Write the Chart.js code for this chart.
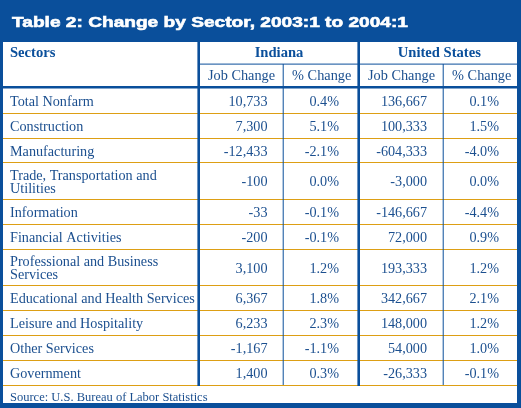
<!DOCTYPE html>
<html><head><meta charset="utf-8">
<script src="https://cdn.jsdelivr.net/npm/chart.js@4/dist/chart.umd.min.js"></script>
<style>html,body{margin:0;padding:0;background:#fff;}#wrap{width:521px;height:408px;}</style>
</head><body>
<div id="wrap"><canvas id="c" width="521" height="408"></canvas></div>
<script>
// ---- data ----
const title = 'Table 2: Change by Sector, 2003:1 to 2004:1';
const sectorHeader = 'Sectors';
const groups = ['Indiana', 'United States'];
const subHeaders = ['Job Change', '% Change'];
const sectors = ['Total Nonfarm', 'Construction', 'Manufacturing', 'Trade, Transportation and\nUtilities',
  'Information', 'Financial Activities', 'Professional and Business\nServices', 'Educational and Health Services',
  'Leisure and Hospitality', 'Other Services', 'Government'];
const indianaJobChange = [10733, 7300, -12433, -100, -33, -200, 3100, 6367, 6233, -1167, 1400];
const indianaPctChange = [0.4, 5.1, -2.1, 0.0, -0.1, -0.1, 1.2, 1.8, 2.3, -1.1, 0.3];
const usJobChange = [136667, 100333, -604333, -3000, -146667, 72000, 193333, 342667, 148000, 54000, -26333];
const usPctChange = [0.1, 1.5, -4.0, 0.0, -4.4, 0.9, 1.2, 2.1, 1.2, 1.0, -0.1];
const source = 'Source: U.S. Bureau of Labor Statistics';

// ---- styles / layout ----
const BLUE = '#0a4f9b', TEXT = '#1b4f8f', ORANGE = '#dd9f14';
const SERIF = '"Liberation Serif", "Times New Roman", serif';
const fmtJob = v => v.toLocaleString('en-US');
const fmtPct = v => v.toFixed(1) + '%';
const columns = [
  {values: indianaJobChange, fmt: fmtJob, right: 267.5},
  {values: indianaPctChange, fmt: fmtPct, right: 339},
  {values: usJobChange, fmt: fmtJob, right: 427},
  {values: usPctChange, fmt: fmtPct, right: 499}
];

const tablePlugin = {
  id: 'table',
  afterDraw(chart) {
    const ctx = chart.ctx, sx = chart.scales.x, sy = chart.scales.y;
    const X = v => sx.getPixelForValue(v), Y = v => sy.getPixelForValue(v);
    const rect = (x0, y0, x1, y1, c) => { ctx.fillStyle = c; ctx.fillRect(X(x0), Y(y0), X(x1) - X(x0), Y(y1) - Y(y0)); };
    ctx.save();
    rect(0, 0, 521, 408, BLUE);
    rect(3, 42, 517, 403, '#ffffff');
    // title (stretched horizontally to the reference width)
    ctx.fillStyle = '#ffffff';
    ctx.strokeStyle = '#ffffff';
    ctx.lineWidth = 0.6;
    ctx.font = 'bold 15.5px "Liberation Sans", Arial, sans-serif';
    ctx.textAlign = 'left'; ctx.textBaseline = 'alphabetic';
    const w = ctx.measureText(title).width;
    ctx.save();
    ctx.translate(X(12), Y(27.3));
    ctx.scale((X(408) - X(12)) / w, 1);
    ctx.fillText(title, 0, 0);
    ctx.strokeText(title, 0, 0);
    ctx.restore();

    const single = 24.8, extra = 11.9;
    let y = 88.5;
    const bounds = [];
    sectors.forEach(s => {
      const n = s.split('\n').length;
      const h = single + (n - 1) * extra;
      bounds.push([y, y + h]);
      y += h;
    });
    const tableBottom = y;

    bounds.forEach(b => rect(3, Math.floor(b[1]), 517, Math.floor(b[1]) + 1, ORANGE));

    rect(3, 86, 517, 88.5, BLUE);
    rect(200, 63.6, 517, 64.6, BLUE);
    rect(197.4, 42, 200, Math.floor(tableBottom) + 1, BLUE);
    rect(357.4, 42, 360, Math.floor(tableBottom) + 1, BLUE);
    rect(282.7, 64, 283.7, Math.floor(tableBottom), BLUE);
    rect(442.7, 64, 443.7, Math.floor(tableBottom), BLUE);

    ctx.fillStyle = BLUE;
    ctx.font = 'bold 14.6px ' + SERIF;
    ctx.textAlign = 'left';
    ctx.fillText(sectorHeader, X(10), Y(57.3));
    ctx.textAlign = 'center';
    ctx.fillText(groups[0], X(279), Y(57.3));
    ctx.fillText(groups[1], X(439.3), Y(57.3));
    ctx.fillStyle = TEXT;
    ctx.font = '14.3px ' + SERIF;
    ctx.fillText(subHeaders[0], X(241.5), Y(80));
    ctx.fillText(subHeaders[1], X(321.7), Y(80));
    ctx.fillText(subHeaders[0], X(401.5), Y(80));
    ctx.fillText(subHeaders[1], X(481.7), Y(80));

    ctx.font = '14.2px ' + SERIF;
    sectors.forEach((s, i) => {
      const [t, b] = bounds[i];
      const c = (t + b) / 2 + 5;
      const lines = s.split('\n');
      ctx.textAlign = 'left';
      lines.forEach((ln, k) => {
        ctx.fillText(ln, X(10), Y(c - (lines.length - 1) * 13.3 / 2 + k * 13.3));
      });
      ctx.textAlign = 'right';
      columns.forEach(col => ctx.fillText(col.fmt(col.values[i]), X(col.right), Y(c)));
    });

    ctx.textAlign = 'left';
    ctx.font = '12.5px ' + SERIF;
    ctx.fillText(source, X(10), Y(400.7));
    ctx.restore();
  }
};

new Chart(document.getElementById('c'), {
  type: 'scatter',
  data: { datasets: [{ data: [] }] },
  options: {
    responsive: false, animation: false, devicePixelRatio: 1,
    layout: { padding: 0 },
    plugins: { legend: { display: false }, tooltip: { enabled: false } },
    scales: {
      x: { type: 'linear', min: 0, max: 521, display: false },
      y: { type: 'linear', min: 0, max: 408, reverse: true, display: false }
    }
  },
  plugins: [tablePlugin]
});
</script>
</body></html>
